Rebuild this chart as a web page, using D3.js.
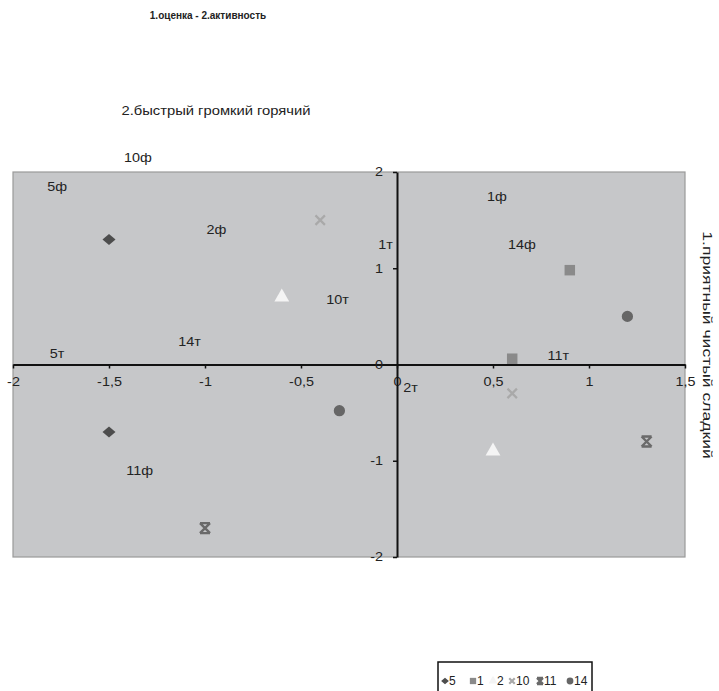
<!DOCTYPE html>
<html><head><meta charset="utf-8">
<script src="https://cdn.jsdelivr.net/npm/d3@7"></script>
<style>
body{margin:0;background:#fff;}
text{font-family:"Liberation Sans",Arial,sans-serif;fill:#222;}
</style></head>
<body><svg id="c" width="719" height="691"></svg>
<script>
// ---- data ----
const seriesNames = ["5","1","2","10","11","14"];
const seriesX = [[-1.5,-1.5],[0.9,0.6],[-0.6,0.5],[-0.4,0.6],[-1.0,1.3],[1.2,-0.3]];
const seriesY = [[1.3,-0.7],[0.98,0.06],[0.7,-0.9],[1.5,-0.3],[-1.7,-0.8],[0.5,-0.48]];
const labelTexts = ["10ф","5ф","2ф","1т","10т","14т","5т","1ф","14ф","11т","2т","11ф"];
const labelX = [-1.35,-1.77,-0.94,-0.06,-0.31,-1.08,-1.77,0.52,0.65,0.84,0.07,-1.34];
const labelY = [2.15,1.85,1.40,1.24,0.67,0.24,0.11,1.74,1.24,0.09,-0.24,-1.10];
const xTicks = [-2,-1.5,-1,-0.5,0,0.5,1,1.5];
const yTicks = [-2,-1,0,1,2];
const title = "1.оценка - 2.активность";
const xTitle = "2.быстрый громкий горячий";
const yTitle = "1.приятный чистый сладкий";

// ---- styles ----
const SX = 1.2; // horizontal stretch of text in the reference
const markerFill = ["#4d4d4d","#8a8a8a","#f4f4f4","#a9a9a9","#6a6a6a","#666666"];
const svg = d3.select("#c");
const x = d3.scaleLinear().domain([-2,1.5]).range([13,685]);
const y = d3.scaleLinear().domain([-2,2]).range([557,172]);

svg.append("rect").attr("x",x(-2)).attr("y",y(2)).attr("width",x(1.5)-x(-2)).attr("height",y(-2)-y(2))
  .attr("fill","#c6c7c9").attr("stroke","#9a9a9a").attr("stroke-width",1.2);

const fmt = d => String(d).replace(".",",");
const xa = svg.append("g").attr("transform",`translate(0,${y(0)})`)
  .call(d3.axisBottom(x).tickValues(xTicks).tickFormat(fmt).tickSize(4).tickSizeOuter(0).tickPadding(9));
const ya = svg.append("g").attr("transform",`translate(${x(0)},0)`)
  .call(d3.axisLeft(y).tickValues(yTicks).tickFormat(fmt).tickSize(4).tickSizeOuter(0).tickPadding(10));
[xa,ya].forEach(a=>{
  a.select(".domain").attr("stroke","#111").attr("stroke-width",2);
  a.selectAll(".tick line").attr("stroke","#111").attr("stroke-width",1.5);
  a.selectAll(".tick text").attr("font-size",12).attr("fill","#333").style("font-family",'"Liberation Sans",Arial,sans-serif');
});
xa.selectAll(".tick text").attr("transform",`scale(${SX},1)`);
ya.selectAll(".tick text").attr("x",-14/SX).attr("transform",`scale(${SX},1)`);

// marker shapes
function starPath(s){const h=s/2;return `M${-h},${-h}L${h},${h}M${h},${-h}L${-h},${h}M${-h},${-h}L${h},${-h}M${-h},${h}L${h},${h}`;}
function diamondPath(w,h){return `M0,${-h}L${w},0L0,${h}L${-w},0Z`;}
function drawMarker(g,i,cx,cy,sc){
  const k = sc||1;
  if(i===0) g.append("path").attr("d",diamondPath(6.5*k,5.5*k)).attr("transform",`translate(${cx},${cy})`).attr("fill",markerFill[i]);
  else if(i===1) g.append("path").attr("d",d3.symbol(d3.symbolSquare,110*k*k)()).attr("transform",`translate(${cx},${cy})`).attr("fill",markerFill[i]);
  else if(i===2) g.append("path").attr("d",d3.symbol(d3.symbolTriangle,95*k*k)()).attr("transform",`translate(${cx},${cy})`).attr("fill",markerFill[i]);
  else if(i===3) g.append("path").attr("d",d3.symbol(d3.symbolX,60*k*k)()).attr("transform",`translate(${cx},${cy})`).attr("fill","none").attr("stroke",markerFill[i]).attr("stroke-width",2.2);
  else if(i===4) g.append("path").attr("d",starPath(10*k)).attr("transform",`translate(${cx},${cy})`).attr("fill","none").attr("stroke",markerFill[i]).attr("stroke-width",2.4);
  else g.append("path").attr("d",d3.symbol(d3.symbolCircle,100*k*k)()).attr("transform",`translate(${cx},${cy})`).attr("fill",markerFill[i]);
}
const mg = svg.append("g");
seriesNames.forEach((n,i)=>{
  seriesX[i].forEach((vx,j)=>drawMarker(mg,i,x(vx),y(seriesY[i][j])));
});

// point labels
svg.append("g").selectAll("text").data(labelTexts).join("text")
  .attr("transform",(d,i)=>`translate(${x(labelX[i])},${y(labelY[i])}) scale(${SX},1)`).attr("dy","0.35em")
  .attr("text-anchor","middle").attr("font-size",12).text(d=>d);

// titles
svg.append("text").attr("x",208).attr("y",19).attr("text-anchor","middle").attr("font-size",10).attr("font-weight","bold").text(title);
svg.append("text").attr("transform","translate(216,115) scale(1.23,1)").attr("text-anchor","middle").attr("font-size",12).text(xTitle);
svg.append("text").attr("transform","translate(703,345) rotate(90) scale(1.35,1)").attr("text-anchor","middle").attr("font-size",13).text(yTitle);

// legend
const lg = svg.append("g");
lg.append("rect").attr("x",438).attr("y",662).attr("width",154).attr("height",40).attr("fill","#fff").attr("stroke","#111").attr("stroke-width",1.5);
const legX = [445,473,493,512,540,570];
seriesNames.forEach((n,i)=>{
  drawMarker(lg,i,legX[i],681,0.6);
  lg.append("text").attr("x",legX[i]+4).attr("y",685).attr("font-size",12).attr("fill","#333").text(n);
});
</script></body></html>
